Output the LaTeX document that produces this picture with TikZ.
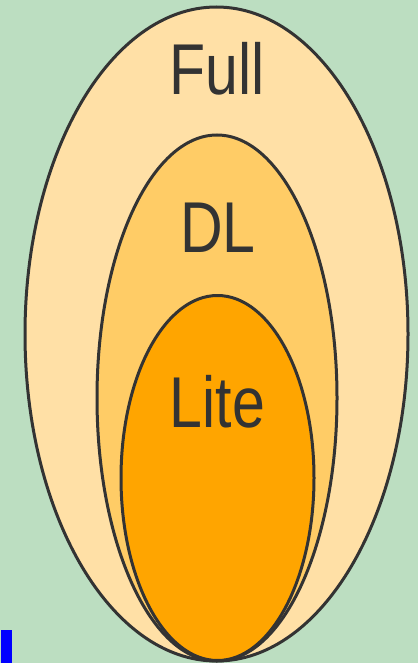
\documentclass[tikz,border=0pt]{standalone}
\usepackage{fontspec}
\setmainfont{Liberation Sans}
\begin{document}
\begin{tikzpicture}[x=1pt,y=-1pt,
  ring/.style={draw=black!80,line width=3pt},
  lbl/.style={text=black!80,font=\fontsize{72}{72}\selectfont,xscale=0.82,anchor=base,inner sep=0pt}]
\fill[fill={rgb,255:red,188;green,222;blue,193}] (0,0) rectangle (418,663);
\useasboundingbox (0,0) rectangle (418,663);
\draw[ring,fill={rgb,255:red,255;green,224;blue,166}] (216.5,334) ellipse [x radius=191.5, y radius=327];
\draw[ring,fill={rgb,255:red,255;green,204;blue,102}] (217,398) ellipse [x radius=120, y radius=263];
\draw[ring,fill={rgb,255:red,255;green,165;blue,0}] (217.5,478) ellipse [x radius=96.5, y radius=182.5];
\node[lbl] (full) at (217,95) {Full};
\node[lbl] (dl) at (218,252) {DL};
\node[lbl] (lite) at (217.5,427) {Lite};
\fill[blue] (1,630) rectangle (12,663);
\end{tikzpicture}
\end{document}
